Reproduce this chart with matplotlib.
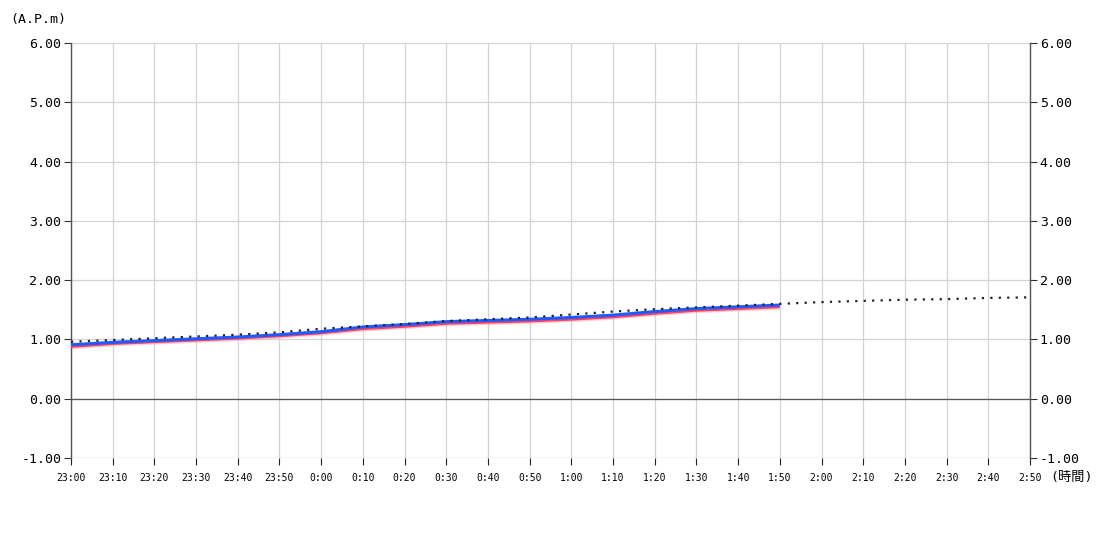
#!/usr/bin/env python3
"""Observed vs predicted level, 23:00-2:50."""

import matplotlib

matplotlib.use("Agg")
import matplotlib.pyplot as plt

plt.rcParams["font.family"] = ["DejaVu Sans Mono", "Noto Sans CJK JP"]

# minutes after 23:00, every 10 minutes
TICK_LABELS = ["23:00", "23:10", "23:20", "23:30", "23:40", "23:50",
               "0:00", "0:10", "0:20", "0:30", "0:40", "0:50",
               "1:00", "1:10", "1:20", "1:30", "1:40", "1:50",
               "2:00", "2:10", "2:20", "2:30", "2:40", "2:50"]
MINUTES = [10 * i for i in range(len(TICK_LABELS))]

# dotted reference / forecast series (full window)
forecast = [0.96, 0.99, 1.02, 1.05, 1.08, 1.12, 1.18, 1.22, 1.26, 1.31, 1.34, 1.37,
            1.42, 1.47, 1.51, 1.54, 1.57, 1.60, 1.63, 1.65, 1.67, 1.68, 1.70, 1.71]
# observed series up to 1:50
blue_vals = [0.91, 0.95, 0.98, 1.01, 1.04, 1.08, 1.13, 1.21, 1.25, 1.30, 1.32, 1.34,
             1.37, 1.41, 1.47, 1.52, 1.55, 1.58]
red_vals = [0.88, 0.93, 0.96, 0.99, 1.02, 1.06, 1.11, 1.18, 1.22, 1.27, 1.29, 1.31,
            1.34, 1.38, 1.44, 1.49, 1.52, 1.55]

Y_TICKS = [-1, 0, 1, 2, 3, 4, 5, 6]


def main() -> None:
    fig = plt.figure(figsize=(11, 5.5), dpi=100)
    ax = fig.add_axes([71 / 1100, 1 - 458 / 550, (1030 - 71) / 1100, (458 - 43) / 550])

    ax.set_xlim(MINUTES[0], MINUTES[-1])
    ax.set_ylim(-1, 6)
    ax.set_xticks(MINUTES)
    ax.set_xticklabels(TICK_LABELS, fontsize=7)
    ax.set_yticks(Y_TICKS)
    ax.set_yticklabels([f"{v:.2f}" for v in Y_TICKS], fontsize=9.5)
    ax.tick_params(axis="y", which="both", left=True, right=True, labelleft=True,
                   labelright=True, length=5, width=0.8, color="#333333", pad=2)
    ax.tick_params(axis="x", length=5, width=0.8, color="#222222", pad=6)

    ax.grid(True, color="#d3d3d3", lw=0.9)
    ax.set_axisbelow(True)
    ax.axhline(0, color="#555555", lw=0.9, zorder=1)

    for side in ("top", "bottom"):
        ax.spines[side].set_visible(False)
    ax.axhline(-1, color="#d3d3d3", lw=0.9, zorder=0)
    for side in ("left", "right"):
        ax.spines[side].set_color("#555555")
        ax.spines[side].set_linewidth(1.0)

    n = len(blue_vals)
    ax.plot(MINUTES[:n], red_vals, color="#ff9aaa", lw=4.0, alpha=0.5, solid_capstyle="butt", zorder=2)
    ax.plot(MINUTES[:n], red_vals, color="#ff4060", lw=2.0, solid_capstyle="butt", zorder=3)
    ax.plot(MINUTES[:n], blue_vals, color="#1e5bff", lw=2.2, solid_capstyle="butt", zorder=3)
    ax.plot(MINUTES, forecast, color="#222222", lw=1.6, ls=(0, (1, 2.8)), zorder=4)

    fig.text(10 / 1100, 1 - 19 / 550, "(A.P.m)", fontsize=9.5, va="center", ha="left")
    fig.text(1050 / 1100, 1 - 477 / 550, "(時間)", fontsize=9.5, va="center", ha="left")

    fig.savefig("out.png", dpi=100)
    plt.close(fig)


if __name__ == "__main__":
    main()
